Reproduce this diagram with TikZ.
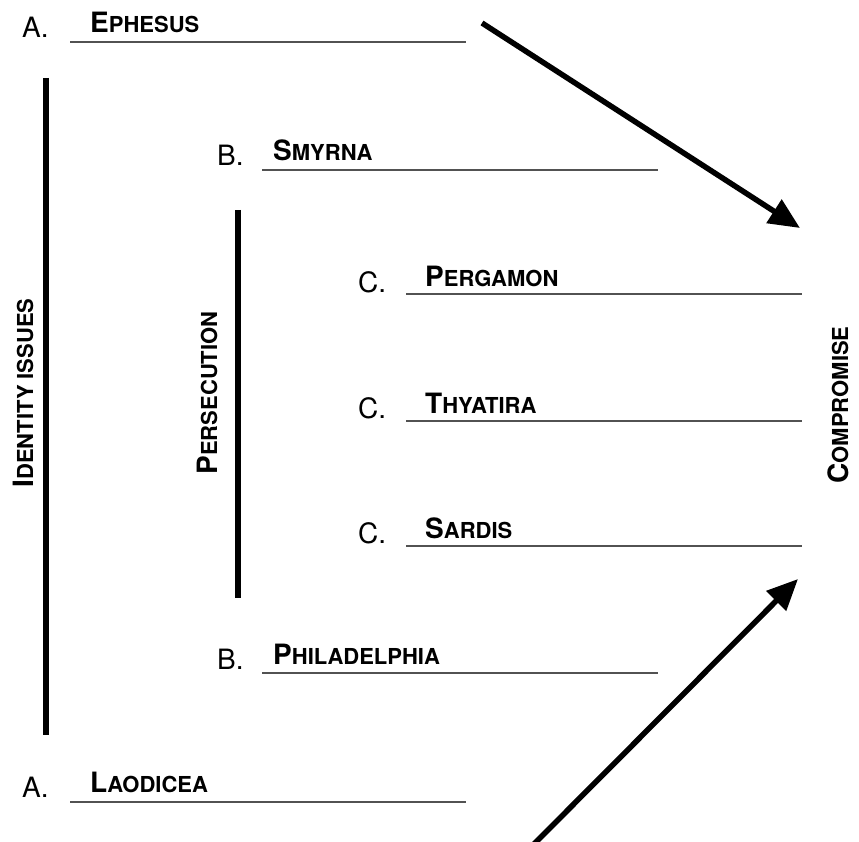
\documentclass[tikz,border=0pt]{standalone}
\usepackage{fontspec}
\setmainfont{TeX Gyre Heros}
\usetikzlibrary{arrows.meta}
\newcommand\fsc[2]{{\fontsize{28}{30}\selectfont #1}{\fontsize{22}{24}\selectfont #2}}
\begin{document}
\begin{tikzpicture}[x=1pt,y=-1pt,
  letter/.style={anchor=base west,inner sep=0pt,font=\fontsize{28}{30}\selectfont},
  church/.style={anchor=base west,inner sep=0pt,font=\bfseries},
  theme/.style={anchor=base,inner sep=0pt,rotate=90,font=\bfseries},
  blank/.style={draw=black!68,line width=2.4pt},
  bar/.style={line width=6pt},
  bigarrow/.style={line width=5.5pt,-{Triangle[length=31pt,width=27pt]}}]
\useasboundingbox (0,0) rectangle (859,842);
% A. Ephesus
\node[letter] (la1) at (22,38) {A.};
\node[church] (ephesus) at (90,33) {\fsc{E}{PHESUS}};
\coordinate (u1a) at (70,42); \coordinate (u1b) at (466,42);
\draw[blank] (u1a) -- (u1b);
% B. Smyrna
\node[letter] (lb1) at (217,166) {B.};
\node[church] (smyrna) at (273,161) {\fsc{S}{MYRNA}};
\coordinate (u2a) at (262,170); \coordinate (u2b) at (658,170);
\draw[blank] (u2a) -- (u2b);
% C. Pergamon
\node[letter] (lc1) at (358,292) {C.};
\node[church] (pergamon) at (425,287) {\fsc{P}{ERGAMON}};
\coordinate (u3a) at (406,294); \coordinate (u3b) at (802,294);
\draw[blank] (u3a) -- (u3b);
% C. Thyatira
\node[letter] (lc2) at (358,418) {C.};
\node[church] (thyatira) at (425,413) {\fsc{T}{HYATIRA}};
\coordinate (u4a) at (406,421); \coordinate (u4b) at (802,421);
\draw[blank] (u4a) -- (u4b);
% C. Sardis
\node[letter] (lc3) at (358,543) {C.};
\node[church] (sardis) at (425,538) {\fsc{S}{ARDIS}};
\coordinate (u5a) at (406,546); \coordinate (u5b) at (802,546);
\draw[blank] (u5a) -- (u5b);
% B. Philadelphia
\node[letter] (lb2) at (217,669) {B.};
\node[church] (philadelphia) at (273,664) {\fsc{P}{HILADELPHIA}};
\coordinate (u6a) at (262,673); \coordinate (u6b) at (658,673);
\draw[blank] (u6a) -- (u6b);
% A. Laodicea
\node[letter] (la2) at (22,797) {A.};
\node[church] (laodicea) at (90,792) {\fsc{L}{AODICEA}};
\coordinate (u7a) at (70,802); \coordinate (u7b) at (466,802);
\draw[blank] (u7a) -- (u7b);
% bars
\coordinate (b1a) at (46,78); \coordinate (b1b) at (46,735);
\draw[bar] (b1a) -- (b1b);
\coordinate (b2a) at (238,210); \coordinate (b2b) at (238,598);
\draw[bar] (b2a) -- (b2b);
% themes
\node[theme] (identity) at (33,393) {\fsc{I}{DENTITY ISSUES}};
\node[theme] (persecution) at (217,393) {\fsc{P}{ERSECUTION}};
\node[theme] (compromise) at (848,405) {\fsc{C}{OMPROMISE}};
% arrows
\coordinate (a1s) at (482,23); \coordinate (a1e) at (800,228);
\draw[bigarrow] (a1s) -- (a1e);
\coordinate (a2s) at (533,845); \coordinate (a2e) at (798,579);
\draw[bigarrow] (a2s) -- (a2e);
\end{tikzpicture}
\end{document}
